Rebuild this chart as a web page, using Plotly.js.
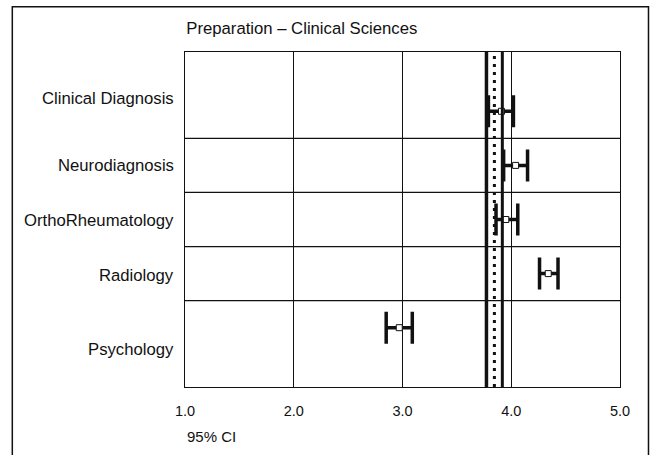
<!DOCTYPE html>
<html>
<head>
<meta charset="utf-8">
<script src="https://cdn.plot.ly/plotly-3.0.1.min.js"></script>
<style>html,body{margin:0;padding:0;background:#fff;}#chart{width:657px;height:455px;}</style>
</head>
<body>
<div id="chart"></div>
<script>
// ---- data ----
var categories = ["Clinical Diagnosis", "Neurodiagnosis", "OrthoRheumatology", "Radiology", "Psychology"];
var means      = [3.91, 4.04, 3.95, 4.34, 2.97];
var lowerCI    = [3.79, 3.93, 3.86, 4.26, 2.85];
var upperCI    = [4.02, 4.15, 4.06, 4.43, 3.09];
var refMean = 3.845;
var refLow  = 3.772;
var refHigh = 3.918;
var titleText = "Preparation \u2013 Clinical Sciences";
var xLabelText = "95% CI";
var xTicks = [1, 2, 3, 4, 5];

// ---- build ----
var errPlus = means.map(function(m, i){ return upperCI[i] - m; });
var errMinus = means.map(function(m, i){ return m - lowerCI[i]; });

var font = "Liberation Sans, Arial, Helvetica, sans-serif";

var trace = {
  type: "scatter",
  mode: "markers",
  x: means,
  y: categories,
  error_x: {type: "data", symmetric: false, array: errPlus, arrayminus: errMinus,
            color: "#111", thickness: 3.5, width: 16},
  marker: {symbol: "square", size: 6, color: "#fff", line: {color: "#111", width: 1}},
  hoverinfo: "skip",
  cliponaxis: false
};

var shapes = [];
// separators between categories
for (var i = 0; i < categories.length - 1; i++) {
  shapes.push({type: "line", xref: "paper", yref: "y", x0: 0, x1: 1, y0: i + 0.5, y1: i + 0.5,
               line: {color: "#111", width: 1.2}, layer: "below"});
}
// reference lines
shapes.push({type: "line", xref: "x", yref: "paper", x0: refLow, x1: refLow, y0: 0, y1: 1, line: {color: "#111", width: 3.5}});
shapes.push({type: "line", xref: "x", yref: "paper", x0: refHigh, x1: refHigh, y0: 0, y1: 1, line: {color: "#111", width: 3}});
shapes.push({type: "line", xref: "x", yref: "paper", x0: refMean, x1: refMean, y0: 0, y1: 1, line: {color: "#111", width: 3, dash: "3px,5px"}});
// outer frame
shapes.push({type: "rect", xref: "paper", yref: "paper", x0: -0.397, x1: 1.0655, y0: -0.3, y1: 1.1352,
             line: {color: "#111", width: 1.5}, fillcolor: "rgba(0,0,0,0)"});

var labelShift = [13, 0, -1, -2, -22];
var annotations = categories.map(function(c, i){
  return {xref: "paper", yref: "y", x: 0, y: c, xanchor: "right", yanchor: "middle",
          xshift: -9, yshift: labelShift[i], text: c, showarrow: false,
          font: {family: font, size: 16.7, color: "#111"}};
});
annotations.push({xref: "paper", yref: "paper", x: 0, y: -0.148, xanchor: "left", yanchor: "middle",
                  text: xLabelText, showarrow: false, font: {family: font, size: 15, color: "#111"}});

var layout = {
  width: 657, height: 455,
  margin: {l: 185, r: 37, t: 52, b: 68},
  paper_bgcolor: "#fff", plot_bgcolor: "#fff",
  showlegend: false,
  title: {text: titleText, xref: "paper", x: 0.003, xanchor: "left", yref: "container", y: 0.938, yanchor: "middle",
          font: {family: font, size: 16.7, color: "#111"}},
  xaxis: {range: [1, 5], tickvals: xTicks, tickformat: ".1f", showgrid: true, gridcolor: "#111", gridwidth: 1,
          zeroline: false, showline: true, mirror: true, linecolor: "#111", linewidth: 1.2,
          ticks: "", ticklabelstandoff: 10, tickfont: {family: font, size: 14.5, color: "#111"}},
  yaxis: {type: "category", categoryorder: "array", categoryarray: categories, range: [5.096, -1.096],
          showgrid: false, zeroline: false, showline: true, mirror: true, linecolor: "#111", linewidth: 1.2,
          showticklabels: false, ticks: ""},
  shapes: shapes,
  annotations: annotations
};

Plotly.newPlot("chart", [trace], layout, {displayModeBar: false, staticPlot: true});
</script>
</body>
</html>
